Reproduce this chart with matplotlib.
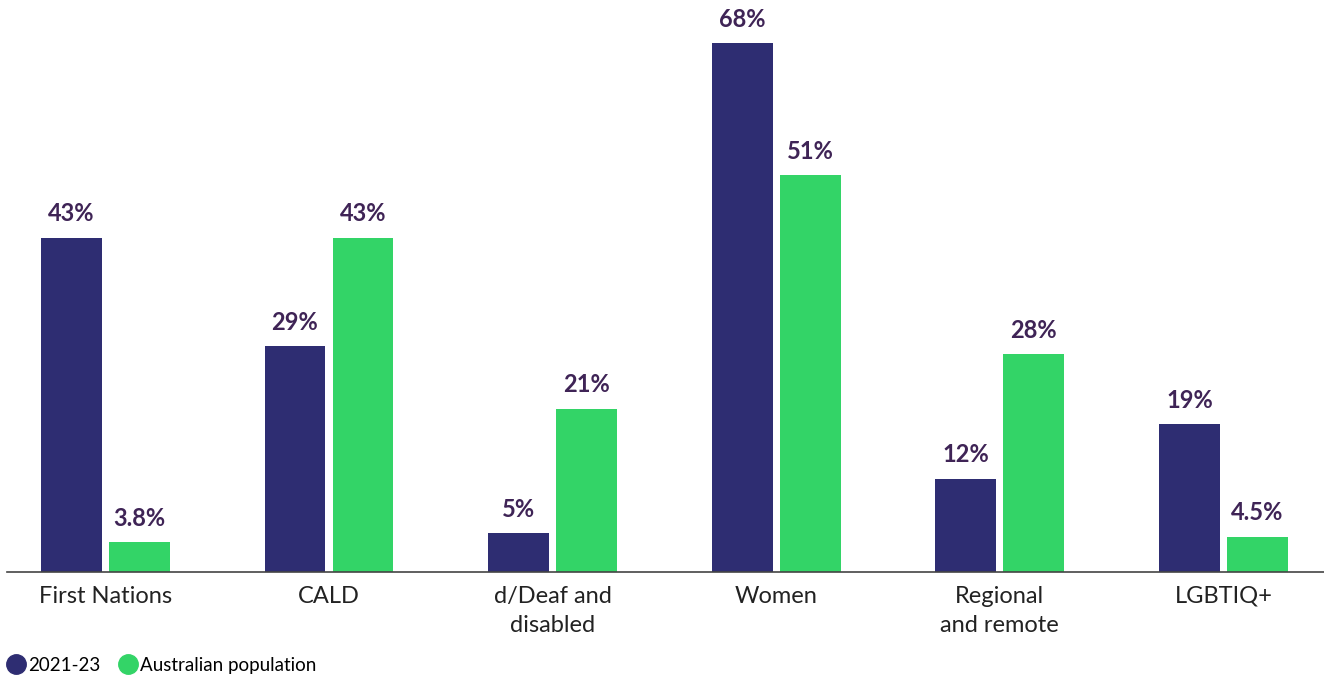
import numpy as np
import matplotlib.pyplot as plt
from matplotlib.lines import Line2D

categories = ["First Nations", "CALD", "d/Deaf and\ndisabled", "Women", "Regional\nand remote", "LGBTIQ+"]
grants = [43, 29, 5, 68, 12, 19]
population = [3.8, 43, 21, 51, 28, 4.5]
grant_labels = ["43%", "29%", "5%", "68%", "12%", "19%"]
pop_labels = ["3.8%", "43%", "21%", "51%", "28%", "4.5%"]
series_names = ["2021-23", "Australian population"]

navy = "#2e2d72"
green = "#33d467"
label_col = "#3f2456"

plt.rcParams["font.family"] = ["Lato", "DejaVu Sans"]

fig = plt.figure(figsize=(13.24, 6.76), dpi=100)
ax = fig.add_axes([7 / 1324, 104 / 676, 1 - 7 / 1324, 560 / 676])

x = np.arange(len(categories))
w = 0.272
off = 0.152
b1 = ax.bar(x - off, grants, w, color=navy)
b2 = ax.bar(x + off, population, w, color=green)

for bars, labels in [(b1, grant_labels), (b2, pop_labels)]:
    for bar, lab in zip(bars, labels):
        ax.annotate(lab, (bar.get_x() + bar.get_width() / 2, bar.get_height()),
                    xytext=(0, 9), textcoords="offset points", ha="center", va="bottom",
                    fontsize=17, fontweight="bold", color=label_col)

ax.set_xlim(-0.44, 5.45)
ax.set_ylim(0, 72)
ax.set_xticks(x)
ax.set_xticklabels(categories, fontsize=17, color="#222222", linespacing=1.45)
ax.tick_params(axis="x", length=0, pad=10)
ax.set_yticks([])
for s in ["top", "right", "left"]:
    ax.spines[s].set_visible(False)
ax.spines["bottom"].set_color("#444444")
ax.spines["bottom"].set_linewidth(1.2)

handles = [Line2D([], [], marker="o", linestyle="", markersize=14, color=c) for c in (navy, green)]
fig.legend(handles, series_names, loc="lower left", bbox_to_anchor=(-0.008, -0.022), ncol=2,
           frameon=False, fontsize=13.5, handletextpad=0.15, columnspacing=1.0,
           handlelength=1.0)

fig.savefig("out.png", dpi=100)
